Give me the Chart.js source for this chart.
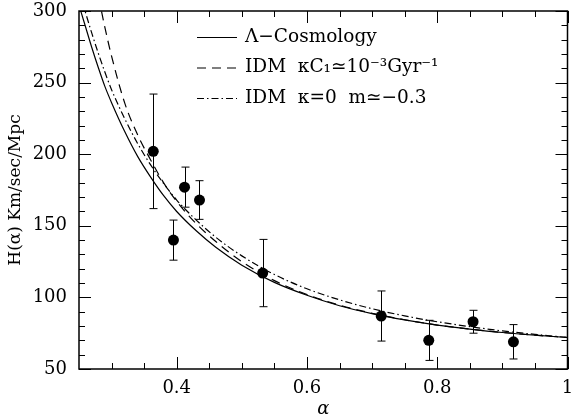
<!DOCTYPE html>
<html>
<head>
<meta charset="utf-8">
<script src="https://cdn.jsdelivr.net/npm/chart.js@4.4.1/dist/chart.umd.min.js"></script>
<style>
html, body { margin: 0; padding: 0; background: #fff; }
#caja { width: 573px; height: 419px; }
</style>
</head>
<body>
<div id="caja"><canvas id="grafico"></canvas></div>
<script>
// 1. DATOS OBSERVADOS H(a)
const puntosA = [0.364, 0.395, 0.412, 0.435, 0.532, 0.714, 0.787, 0.855, 0.917];
const puntosH = [202, 140, 177, 168, 117, 87, 70, 83, 69];
const puntosErr = [40, 14, 14, 13.5, 23.5, 17.5, 14, 8, 12];

// 2. CURVAS DE LOS MODELOS
const curvaA = [0.25, 0.26, 0.27, 0.28, 0.29, 0.30, 0.32, 0.34, 0.36, 0.38, 0.40, 0.43, 0.46, 0.50, 0.55, 0.60, 0.65, 0.70, 0.75, 0.80, 0.85, 0.90, 0.95, 1.00];
const hLambda = [304, 289, 274, 260, 247, 236, 216, 198.5, 184, 171, 160, 146.5, 135, 122.5, 110.5, 101.5, 94.2, 88.7, 84.3, 80.7, 77.9, 75.5, 73.6, 72];
const hKappa0 = [316, 299, 284, 270, 257, 245, 225, 207.5, 192.5, 179.5, 168, 154, 142, 129, 116, 106, 98.3, 92.1, 87.1, 83, 79.6, 76.6, 74.2, 72];

const aKappaC1 = [0.28, 0.29, 0.30, 0.32, 0.34, 0.36, 0.38, 0.40, 0.43, 0.46, 0.50, 0.55, 0.60, 0.65, 0.70, 0.75, 0.80, 0.85, 0.90, 0.95, 1.00];
const hKappaC1 = [310, 288, 268.5, 236, 213.5, 196, 180, 167, 151.5, 139, 125, 111.7, 102, 94.6, 88.9, 84.4, 80.7, 77.9, 75.5, 73.6, 72];

// 3. EJES
const xEtiquetas = [0.4, 0.6, 0.8, 1];
const xMenores = [0.3, 0.35, 0.45, 0.5, 0.55, 0.65, 0.7, 0.75, 0.85, 0.9, 0.95];
const yEtiquetas = [50, 100, 150, 200, 250, 300];
const yMenores = [60, 70, 80, 90, 110, 120, 130, 140, 160, 170, 180, 190, 210, 220, 230, 240, 260, 270, 280, 290];

const leyenda = [
    { texto: 'Λ−Cosmology', dash: [] },
    { texto: 'IDM  κC₁≃10⁻³Gyr⁻¹', dash: [9, 6] },
    { texto: 'IDM  κ=0  m≃−0.3', dash: [7, 3, 1.5, 3] }
];

const fuente = "'DejaVu Serif', serif";

const unir = (xs, ys) => xs.map((v, i) => ({ x: v, y: ys[i] }));

// barras de error
const barrasError = {
    id: 'barrasError',
    beforeDatasetsDraw(chart) {
        const { ctx, scales: { x, y } } = chart;
        ctx.save();
        ctx.strokeStyle = '#000';
        ctx.lineWidth = 1;
        puntosA.forEach((a, i) => {
            let px = Math.round(x.getPixelForValue(a)) + 0.5;
            let arriba = y.getPixelForValue(puntosH[i] + puntosErr[i]);
            let abajo = y.getPixelForValue(puntosH[i] - puntosErr[i]);
            ctx.beginPath();
            ctx.moveTo(px, arriba); ctx.lineTo(px, abajo);
            ctx.moveTo(px - 4, arriba); ctx.lineTo(px + 4, arriba);
            ctx.moveTo(px - 4, abajo); ctx.lineTo(px + 4, abajo);
            ctx.stroke();
        });
        ctx.restore();
    }
};

// marco, marcas hacia dentro y leyenda
const marcoYLeyenda = {
    id: 'marcoYLeyenda',
    afterDraw(chart) {
        const { ctx, chartArea: ca, scales: { x, y } } = chart;
        ctx.save();
        ctx.strokeStyle = '#000';
        ctx.lineWidth = 1;
        ctx.beginPath();
        const marcaX = (v, largo) => {
            let px = Math.round(x.getPixelForValue(v)) + 0.5;
            ctx.moveTo(px, ca.bottom); ctx.lineTo(px, ca.bottom - largo);
            ctx.moveTo(px, ca.top); ctx.lineTo(px, ca.top + largo);
        };
        const marcaY = (v, largo) => {
            let py = Math.round(y.getPixelForValue(v)) + 0.5;
            ctx.moveTo(ca.left, py); ctx.lineTo(ca.left + largo, py);
            ctx.moveTo(ca.right, py); ctx.lineTo(ca.right - largo, py);
        };
        xEtiquetas.forEach(v => marcaX(v, 12));
        xMenores.forEach(v => marcaX(v, 6));
        yEtiquetas.forEach(v => marcaY(v, 12));
        yMenores.forEach(v => marcaY(v, 6));
        ctx.stroke();

        ctx.lineWidth = 1.5;
        ctx.strokeRect(ca.left, ca.top, ca.right - ca.left, ca.bottom - ca.top);

        // leyenda
        ctx.font = '18.5px ' + fuente;
        ctx.fillStyle = '#000';
        ctx.textBaseline = 'middle';
        ctx.lineWidth = 1.2;
        leyenda.forEach((item, i) => {
            let fy = 37 + i * 30.5;
            ctx.setLineDash(item.dash);
            ctx.beginPath();
            ctx.moveTo(197, fy + 0.5); ctx.lineTo(237, fy + 0.5);
            ctx.stroke();
            ctx.setLineDash([]);
            ctx.fillText(item.texto, 245, fy);
        });
        ctx.restore();
    }
};

const estiloCurva = (datos, dash) => ({
    data: datos,
    showLine: true,
    borderColor: '#000',
    borderWidth: 1.2,
    borderDash: dash,
    pointRadius: 0,
    cubicInterpolationMode: 'monotone',
    clip: 0
});

new Chart(document.getElementById('grafico'), {
    type: 'scatter',
    data: {
        datasets: [
            estiloCurva(unir(curvaA, hLambda), []),
            estiloCurva(unir(aKappaC1, hKappaC1), [9, 6]),
            estiloCurva(unir(curvaA, hKappa0), [7, 3, 1.5, 3]),
            {
                data: unir(puntosA, puntosH),
                pointRadius: 5.5,
                pointBackgroundColor: '#000',
                pointBorderColor: '#000',
                pointBorderWidth: 0
            }
        ]
    },
    options: {
        responsive: true,
        maintainAspectRatio: false,
        animation: false,
        layout: { padding: { top: 11, right: 5, left: 0, bottom: 0 } },
        plugins: { legend: { display: false }, tooltip: { enabled: false } },
        scales: {
            x: {
                type: 'linear', min: 0.25, max: 1,
                afterBuildTicks: s => { s.ticks = xEtiquetas.map(v => ({ value: v })); },
                afterFit: s => { s.height = 50; s.paddingLeft = 0; s.paddingRight = 0; },
                grid: { display: false, drawTicks: false },
                border: { display: false },
                ticks: { color: '#000', padding: 9, maxRotation: 0, font: { family: fuente, size: 18 }, callback: v => String(v) },
                title: { display: true, text: 'α', color: '#000', padding: { top: 0, bottom: -1 }, font: { family: fuente, size: 18, style: 'italic' } }
            },
            y: {
                type: 'linear', min: 50, max: 300,
                afterBuildTicks: s => { s.ticks = yEtiquetas.map(v => ({ value: v })); },
                afterFit: s => { s.width = 79; s.paddingTop = 0; s.paddingBottom = 0; },
                grid: { display: false, drawTicks: false },
                border: { display: false },
                ticks: { color: '#000', padding: 12, font: { family: fuente, size: 18 } },
                title: { display: true, text: 'H(α) Km/sec/Mpc', color: '#000', padding: { top: 5, bottom: 0 }, font: { family: fuente, size: 17 } }
            }
        }
    },
    plugins: [barrasError, marcoYLeyenda]
});
</script>
</body>
</html>
